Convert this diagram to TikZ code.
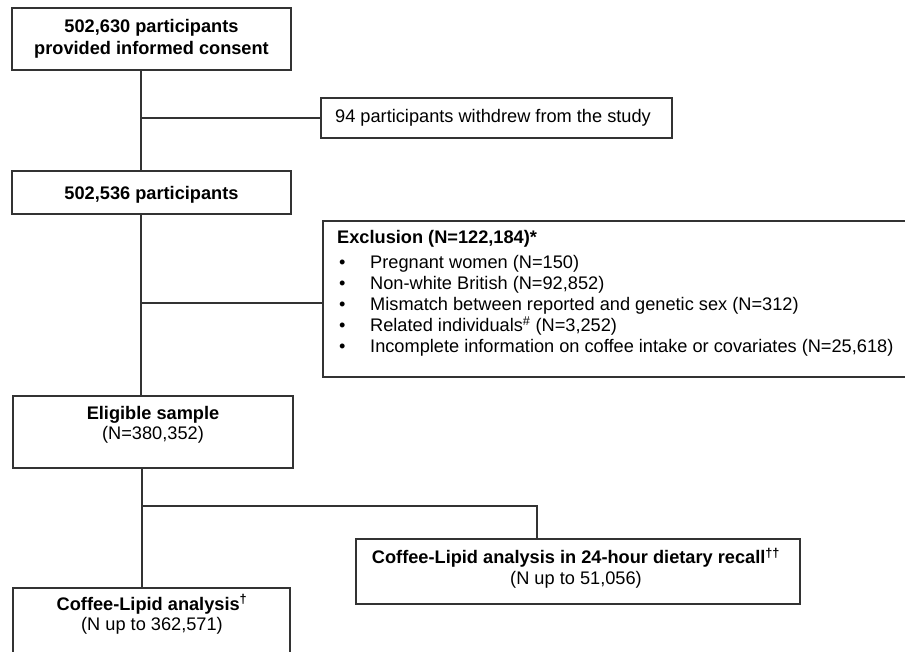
\documentclass[tikz,border=0pt]{standalone}
\usepackage{fontspec}
\setmainfont{Liberation Sans}
\begin{document}
\begin{tikzpicture}[x=1pt,y=-1pt,
  box/.style={draw=black!80, line width=1.1pt, fill=white, rectangle, inner sep=0pt},
  conn/.style={draw=black!80, line width=1.1pt},
  txt/.style={inner sep=0pt, align=center, font=\fontsize{18.2}{20.5}\selectfont}]
\useasboundingbox (0,0) rectangle (905,652);
\clip (0,0) rectangle (905,652);
% boxes
\node[box, minimum width=279pt, minimum height=62pt] (b1) at (151.5,39) {};
\node[txt, font=\fontsize{18.2}{22}\selectfont] (t1) at (151.5,38.5) {\textbf{502,630 participants}\\\textbf{provided informed consent}};
\node[box, minimum width=351pt, minimum height=40pt] (w) at (496.5,118) {};
\node[txt, anchor=west] (tw) at (335,118) {94 participants withdrew from the study};
\node[box, minimum width=279pt, minimum height=43pt] (b2) at (151.5,192.5) {};
\node[txt] (t2) at (151.5,195) {\textbf{502,536 participants}};
\node[box, minimum width=602pt, minimum height=156pt] (ex) at (624,299) {};
\node[inner sep=0pt, anchor=north west, align=left, font=\fontsize{18.2}{21}\selectfont] (tex) at (337,230)
  {\textbf{Exclusion (N=122,184)*}\\[4pt]
   \makebox[33pt][l]{\hspace{2pt}\textbullet}Pregnant women (N=150)\\
   \makebox[33pt][l]{\hspace{2pt}\textbullet}Non-white British (N=92,852)\\
   \makebox[33pt][l]{\hspace{2pt}\textbullet}Mismatch between reported and genetic sex (N=312)\\
   \makebox[33pt][l]{\hspace{2pt}\textbullet}Related individuals\textsuperscript{\#} (N=3,252)\\
   \makebox[33pt][l]{\hspace{2pt}\textbullet}Incomplete information on coffee intake or covariates (N=25,618)};
\node[box, minimum width=280pt, minimum height=72pt] (b3) at (153,432) {};
\node[txt] (t3) at (153,425) {\textbf{Eligible sample}\\(N=380,352)};
\node[box, minimum width=444pt, minimum height=65pt] (b5) at (578,571.5) {};
\node[txt] (t5) at (576,568) {\textbf{Coffee-Lipid analysis in 24-hour dietary recall\textsuperscript{††}}\\(N up to 51,056)};
\node[box, minimum width=277pt, minimum height=90pt] (b4) at (151.5,633) {};
\node[txt] (t4) at (152,614.5) {\textbf{Coffee-Lipid analysis\textsuperscript{†}}\\(N up to 362,571)};
% connectors
\coordinate (j1) at (141,118);
\coordinate (j2) at (141,303);
\coordinate (j3) at (142,506);
\coordinate (k3) at (537,506);
\draw[conn] (b1.south -| j1) -- (b2.north -| j1);
\draw[conn] (j1) -- (w.west |- j1);
\draw[conn] (b2.south -| j2) -- (b3.north -| j2);
\draw[conn] (j2) -- (ex.west |- j2);
\draw[conn] (b3.south -| j3) -- (b4.north -| j3);
\draw[conn] (j3) -- (k3) -- (b5.north -| k3);
\end{tikzpicture}
\end{document}
